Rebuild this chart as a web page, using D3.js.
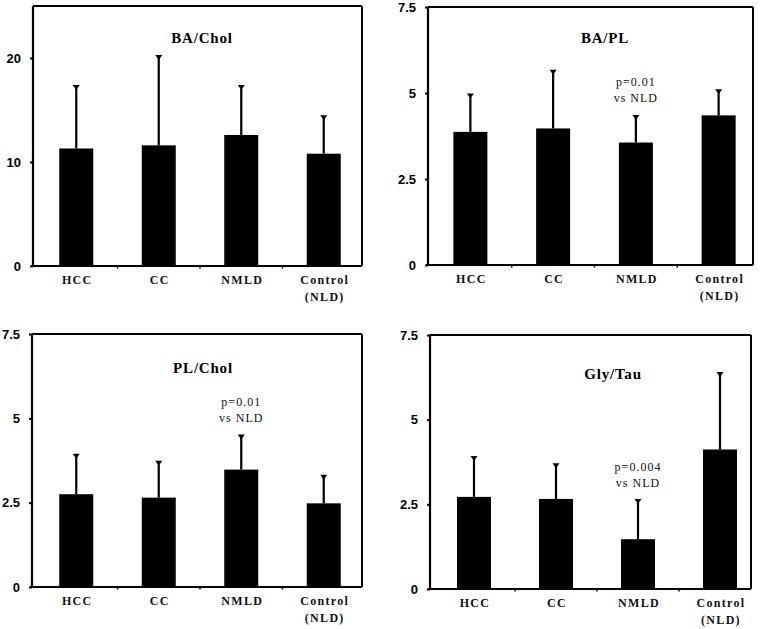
<!DOCTYPE html>
<html>
<head>
<meta charset="utf-8">
<script src="https://cdn.jsdelivr.net/npm/d3@7"></script>
<style>
  html, body { margin: 0; padding: 0; background: #fff; }
  svg { display: block; }
</style>
</head>
<body>
<svg id="chart" width="760" height="629"></svg>
<script>
// ---- data ----
const categories = ["HCC", "CC", "NMLD", "Control|(NLD)"];

const titles = ["BA/Chol", "BA/PL", "PL/Chol", "Gly/Tau"];

const baCholMean = [11.3, 11.6, 12.6, 10.8];
const baCholSD   = [6.0, 8.6, 4.7, 3.6];

const baPLMean = [3.87, 3.97, 3.56, 4.35];
const baPLSD   = [1.09, 1.68, 0.77, 0.73];

const plCholMean = [2.75, 2.65, 3.48, 2.48];
const plCholSD   = [1.17, 1.06, 1.01, 0.82];

const glyTauMean = [2.72, 2.66, 1.47, 4.12];
const glyTauSD   = [1.18, 1.02, 1.16, 2.26];

const yMaxes = [25, 7.5, 7.5, 7.5];
const tickValues = [[0, 10, 20], [0, 2.5, 5, 7.5], [0, 2.5, 5, 7.5], [0, 2.5, 5, 7.5]];
const tickLabels = [["0", "10", "20"], ["0", "2.5", "5", "7.5"], ["0", "2.5", "5", "7.5"], ["0", "2.5", "5", "7.5"]];

const annotations = [
  null,
  { category: "NMLD", lines: ["p=0.01", "vs NLD"] },
  { category: "NMLD", lines: ["p=0.01", "vs NLD"] },
  { category: "NMLD", lines: ["p=0.004", "vs NLD"] }
];

const means = [baCholMean, baPLMean, plCholMean, glyTauMean];
const sds = [baCholSD, baPLSD, plCholSD, glyTauSD];

// ---- layout (pixels) ----
const layouts = [
  { left: 33, right: 362, top: 6, bottom: 266, xr: [35, 365], titleX: 202, titleY: 43, annY: 0 },
  { left: 428, right: 753, top: 7, bottom: 265, xr: [429, 760], titleX: 605, titleY: 43, annY: 86 },
  { left: 32, right: 362, top: 334, bottom: 587, xr: [35, 365], titleX: 203, titleY: 373, annY: 406 },
  { left: 430, right: 751, top: 335, bottom: 589, xr: [433, 761], titleX: 613, titleY: 379, annY: 471 }
];

const svg = d3.select("#chart");
const barW = 34;

layouts.forEach((L, p) => {
  const g = svg.append("g");
  const x = d3.scalePoint().domain(categories).range(L.xr).padding(0.5);
  const step = x.step();
  const y = d3.scaleLinear().domain([0, yMaxes[p]]).range([L.bottom, L.top]);

  const rows = categories.map((c, i) => ({ c, m: means[p][i], sd: sds[p][i] }));

  // bars
  g.selectAll("rect.bar").data(rows).join("rect")
    .attr("class", "bar")
    .attr("x", d => x(d.c) - barW / 2)
    .attr("width", barW)
    .attr("y", d => y(d.m))
    .attr("height", d => y(0) - y(d.m))
    .attr("fill", "#000");

  // error bars
  g.selectAll("line.err").data(rows).join("line")
    .attr("class", "err")
    .attr("x1", d => x(d.c)).attr("x2", d => x(d.c))
    .attr("y1", d => y(d.m)).attr("y2", d => y(d.m + d.sd))
    .attr("stroke", "#000").attr("stroke-width", 2.2);
  g.selectAll("path.cap").data(rows).join("path")
    .attr("class", "cap")
    .attr("d", d => {
      const cx = x(d.c), cy = y(d.m + d.sd) - 1;
      return `M${cx - 3.5},${cy}L${cx + 3.5},${cy}L${cx},${cy + 5}Z`;
    })
    .attr("fill", "#000");

  // frame: top and right
  g.append("line").attr("x1", L.left).attr("x2", L.right).attr("y1", L.top).attr("y2", L.top)
    .attr("stroke", "#000").attr("stroke-width", 2);
  g.append("line").attr("x1", L.right).attr("x2", L.right).attr("y1", L.top).attr("y2", L.bottom)
    .attr("stroke", "#000").attr("stroke-width", 2);

  // y axis
  const yAxis = d3.axisLeft(y).tickValues(tickValues[p])
    .tickFormat((d, i) => tickLabels[p][i]).tickSize(3).tickPadding(9);
  const ya = g.append("g").attr("transform", `translate(${L.left},0)`).call(yAxis);
  ya.select(".domain").attr("d", `M0,${L.top}V${L.bottom}`).attr("stroke-width", 2.2);
  ya.selectAll(".tick line").attr("stroke-width", 2);
  ya.selectAll(".tick text")
    .attr("font-family", "'Liberation Sans', Arial, sans-serif")
    .attr("font-weight", "bold").attr("font-size", 13).attr("fill", "#000");

  // x axis baseline
  g.append("line").attr("x1", L.left - 2).attr("x2", L.right).attr("y1", L.bottom).attr("y2", L.bottom)
    .attr("stroke", "#000").attr("stroke-width", 2.2);
  // small ticks between categories
  const bounds = categories.slice(1).map(c => x(c) - step / 2);
  g.selectAll("line.xt").data(bounds).join("line")
    .attr("class", "xt")
    .attr("x1", d => d).attr("x2", d => d)
    .attr("y1", L.bottom).attr("y2", L.bottom + 2.5)
    .attr("stroke", "#000").attr("stroke-width", 1.5);

  // category labels
  const lab = g.selectAll("text.cat").data(categories).join("text")
    .attr("class", "cat")
    .attr("text-anchor", "middle")
    .attr("font-family", "'Liberation Serif', 'Times New Roman', serif")
    .attr("font-weight", "bold").attr("font-size", 12)
    .attr("letter-spacing", 1.3)
    .attr("fill", "#111");
  lab.each(function (c) {
    const parts = c.split("|");
    d3.select(this).selectAll("tspan").data(parts).join("tspan")
      .attr("x", x(c) + 1)
      .attr("y", (d, i) => L.bottom + 18 + i * 17)
      .text(d => d);
  });

  // title
  g.append("text").attr("x", L.titleX).attr("y", L.titleY)
    .attr("text-anchor", "middle")
    .attr("font-family", "'Liberation Serif', 'Times New Roman', serif")
    .attr("font-weight", "bold").attr("font-size", 15)
    .attr("letter-spacing", 0.8)
    .text(titles[p]);

  // annotation
  const a = annotations[p];
  if (a) {
    const t = g.append("text")
      .attr("text-anchor", "middle")
      .attr("font-family", "'Liberation Serif', 'Times New Roman', serif")
      .attr("font-size", 12).attr("letter-spacing", 1)
      .attr("fill", "#111");
    t.selectAll("tspan").data(a.lines).join("tspan")
      .attr("x", x(a.category))
      .attr("y", (d, i) => L.annY + i * 16)
      .text(d => d);
  }
});
</script>
</body>
</html>
